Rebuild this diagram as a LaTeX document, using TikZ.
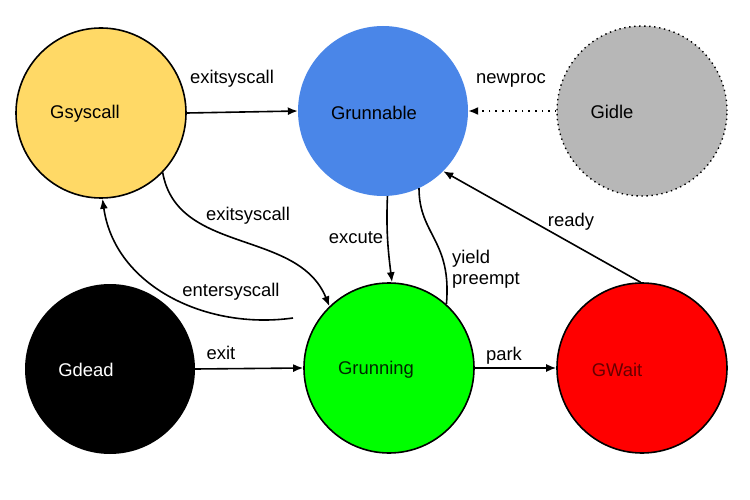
\documentclass[tikz,border=0pt]{standalone}
\usepackage{fontspec}
\setmainfont{Liberation Sans}
\usepackage{tikz}
\usetikzlibrary{arrows.meta}
\definecolor{gsyscol}{HTML}{FFD966}
\definecolor{grunblecol}{HTML}{4A86E8}
\definecolor{gidlecol}{HTML}{B7B7B7}
\definecolor{grungcol}{HTML}{00FF00}
\definecolor{gwaitcol}{HTML}{FF0000}

\begin{document}
\begin{tikzpicture}[x=1pt,y=-1pt,
  state/.style={circle,minimum size=170pt,inner sep=0pt},
  arr/.style={line width=1.6pt,-{Latex[length=10pt,width=8pt]}},
  lbl/.style={font=\fontsize{18.4}{22}\selectfont}]
\useasboundingbox (0,0) rectangle (750,500);
% states
\node[state,draw,line width=1.6pt,fill=gsyscol] (gsyscall) at (101,113) {};
\node[state,fill=grunblecol] (grunnable) at (383,111) {};
\node[state,fill=gidlecol,draw,line width=1.4pt,dash pattern=on 1.4pt off 3.6pt] (gidle) at (642,111) {};
\node[state,fill=black] (gdead) at (110,369) {};
\node[state,draw,line width=1.6pt,fill=grungcol] (grunning) at (389,368) {};
\node[state,draw,line width=1.6pt,fill=gwaitcol] (gwait) at (642,368) {};
\node[lbl] (gsyscall-t) at (85,114) {Gsyscall};
\node[lbl] (grunnable-t) at (374,113) {Grunnable};
\node[lbl] (gidle-t) at (612,112) {Gidle};
\node[lbl,white] (gdead-t) at (86,370) {Gdead};
\node[lbl,black!85!green] (grunning-t) at (376,370) {Grunning};
\node[lbl,black!60!red] (gwait-t) at (617,370) {GWait};
% transitions
\coordinate (entr) at (293,318);
\draw[arr] (gsyscall.east) -- (grunnable.west);
\draw[arr,dash pattern=on 1.6pt off 5pt] (gidle.west) -- (grunnable.east);
\draw[arr] (gsyscall.-44) to[out=-80,in=112] (grunning.134);
\draw[arr] (entr) to[out=188,in=-82] (gsyscall.-89);
\draw[arr] (grunnable.-87) .. controls (386,230) and (388,250) .. (grunning.88);
\draw[line width=1.6pt] (grunnable.-65) .. controls (419,235) and (452,240) .. (grunning.48);
\draw[arr] (gwait.91) -- (grunnable.-45);
\draw[arr] (gdead.east) -- (grunning.west);
\draw[arr] (grunning.east) -- (gwait.west);
% labels
\node[lbl] (exitsys1) at (232,79) {exitsyscall};
\node[lbl] (newproc) at (511,80) {newproc};
\node[lbl] (exitsys2) at (248,216) {exitsyscall};
\node[lbl] (excute) at (356,238) {excute};
\node[lbl,align=left,anchor=west,inner sep=0pt] (yield) at (452,269) {yield\\[-1pt]preempt};
\node[lbl] (entersys) at (231,292) {entersyscall};
\node[lbl] (exit) at (221,353) {exit};
\node[lbl] (park) at (504,356) {park};
\node[lbl] (ready) at (571,222) {ready};
\end{tikzpicture}
\end{document}
